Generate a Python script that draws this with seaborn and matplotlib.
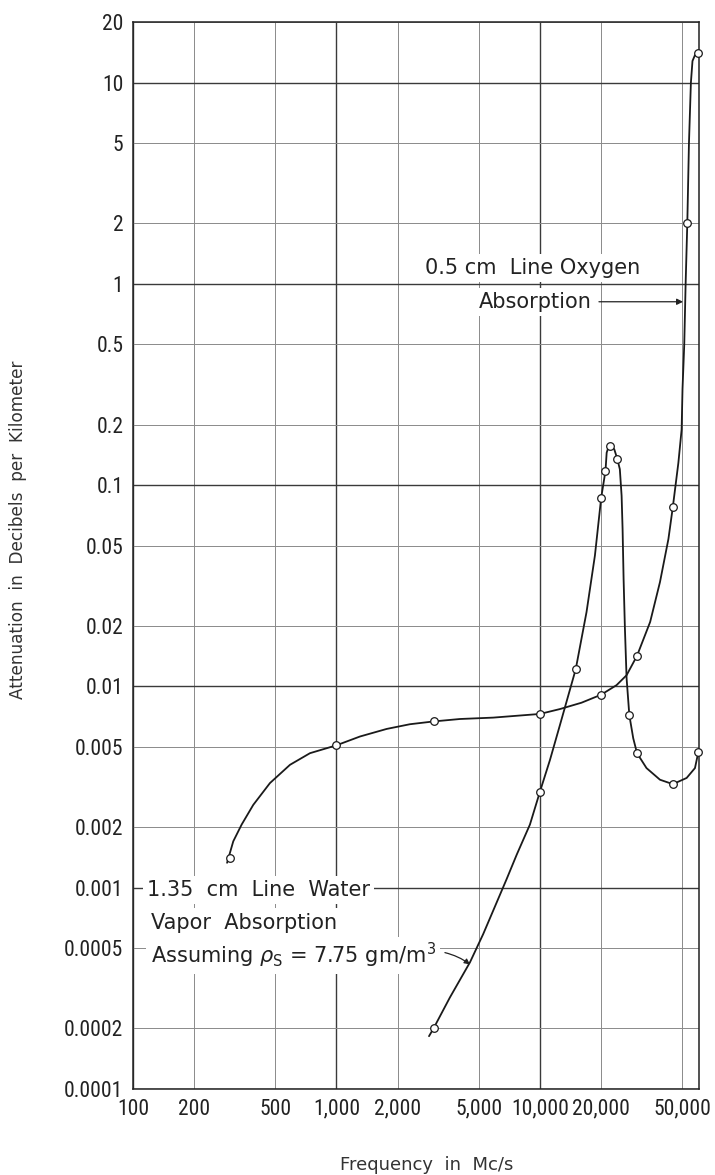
import matplotlib
matplotlib.use("Agg")
import matplotlib.pyplot as plt
import seaborn as sns
import pandas as pd
from matplotlib import font_manager
from matplotlib.ticker import FixedLocator, FixedFormatter, NullLocator

# ---------------- data ----------------
# Oxygen (0.5 cm line) – plotted points
oxy_freq = [300, 1000, 3000, 10000, 20000, 30000, 45000, 53000, 60000]
oxy_att = [0.0014, 0.0051, 0.0067, 0.0073, 0.0091, 0.0142, 0.078, 2.0, 14.0]
# Oxygen – drawn curve
oxy_curve_freq = [290, 311, 342, 390, 471, 591, 741, 1000, 1305, 1765, 2296, 3000,
                  4046, 5890, 10000, 12540, 16000, 20000, 23800, 26660, 30000, 34800,
                  38900, 42800, 45000, 47900, 49700, 50200, 51200, 52000, 53000,
                  54000, 55200, 56200, 57800, 60000]
oxy_curve_att = [0.00133, 0.0017, 0.00206, 0.00258, 0.00331, 0.00408, 0.00466,
                 0.0051, 0.00564, 0.00615, 0.00649, 0.0067, 0.00689, 0.0070, 0.0073,
                 0.00772, 0.0083, 0.0091, 0.01015, 0.01137, 0.0142, 0.0209, 0.033,
                 0.054, 0.078, 0.129, 0.189, 0.3, 0.5, 1.0, 2.0, 5.0, 10.0, 12.8,
                 13.7, 14.0]

# Water vapour (1.35 cm line) – plotted points
h2o_freq = [3000, 10000, 15000, 20000, 21000, 22000, 24000, 27500, 30000, 45000, 60000]
h2o_att = [0.0002, 0.003, 0.0122, 0.0866, 0.118, 0.156, 0.135, 0.0072, 0.00466, 0.00327, 0.0047]
# Water vapour – drawn curve
h2o_curve_freq = [2850, 3000, 3610, 4530, 5260, 6850, 7690, 8930, 10000, 11200, 12540,
                  15000, 16940, 18630, 20000, 21000, 21280, 21650, 22000, 23180, 24000,
                  24700, 25200, 25480, 25770, 26160, 26660, 27500, 28740, 30000, 33400,
                  38900, 45000, 52600, 57800, 60000]
h2o_curve_att = [0.000183, 0.0002, 0.000285, 0.000426, 0.000588, 0.0011, 0.00146,
                 0.00206, 0.003, 0.00431, 0.00643, 0.0122, 0.0234, 0.0447, 0.0866,
                 0.118, 0.145, 0.153, 0.156, 0.151, 0.135, 0.12, 0.0885, 0.0605,
                 0.0343, 0.0194, 0.011, 0.0072, 0.00553, 0.00466, 0.00393, 0.00344,
                 0.00327, 0.00351, 0.00393, 0.0047]

x_ticks = [100, 200, 500, 1000, 2000, 5000, 10000, 20000, 50000]
x_tick_labels = ["100", "200", "500", "1,000", "2,000", "5,000", "10,000", "20,000", "50,000"]
y_ticks = [20, 10, 5, 2, 1, 0.5, 0.2, 0.1, 0.05, 0.02, 0.01, 0.005, 0.002, 0.001,
           0.0005, 0.0002, 0.0001]
y_tick_labels = ["20", "10", "5", "2", "1", "0.5", "0.2", "0.1", "0.05", "0.02", "0.01",
                 "0.005", "0.002", "0.001", "0.0005", "0.0002", "0.0001"]
x_major = [100, 1000, 10000]
y_major = [10, 1, 0.1, 0.01, 0.001, 0.0001]

# ---------------- style ----------------
sns.set_style("white")
plt.rcParams["font.family"] = ["DejaVu Sans"]
plt.rcParams["mathtext.fontset"] = "dejavusans"

# find a narrow face for tick labels if one is installed
names = {f.name: f for f in font_manager.fontManager.ttflist}
tick_font = dict(family="DejaVu Sans", size=13.5, stretch="normal")
for cand in ["Liberation Sans Narrow", "Roboto Condensed", "Open Sans Condensed",
             "Noto Sans Condensed"]:
    if cand in names:
        tick_font = dict(family=cand, size=15.5, stretch="normal")
        break
else:
    cond = [f for f in font_manager.fontManager.ttflist
            if f.name == "DejaVu Sans" and "ondensed" in f.fname and f.weight in (400, "normal")]
    if cond:
        tick_font = dict(family="DejaVu Sans", size=14.5, stretch="condensed")

fig = plt.figure(figsize=(7.15, 11.75), dpi=100)
ax = fig.add_axes([133 / 715, 86 / 1175, (699 - 133) / 715, (1153 - 86) / 1175])
ax.set_xscale("log")
ax.set_yscale("log")
ax.set_xlim(100, 60500)
ax.set_ylim(0.0001, 20)

# grid
for xv in x_ticks:
    major = xv in x_major
    ax.axvline(xv, color="#3a3a3a" if major else "#8a8a8a",
               lw=1.0 if major else 0.7, zorder=1)
for yv in y_ticks:
    major = any(abs(yv - m) / m < 1e-9 for m in y_major)
    ax.axhline(yv, color="#3a3a3a" if major else "#8a8a8a",
               lw=1.0 if major else 0.7, zorder=1)

# curves
oxy_curve = pd.DataFrame({"f": oxy_curve_freq, "a": oxy_curve_att})
h2o_curve = pd.DataFrame({"f": h2o_curve_freq, "a": h2o_curve_att})
for cur in (oxy_curve, h2o_curve):
    sns.lineplot(data=cur, x="f", y="a", ax=ax, color="#1a1a1a", lw=1.3,
                 sort=False, estimator=None, zorder=3)
oxy_pts = pd.DataFrame({"f": oxy_freq, "a": oxy_att})
h2o_pts = pd.DataFrame({"f": h2o_freq, "a": h2o_att})
for pts in (oxy_pts, h2o_pts):
    sns.scatterplot(data=pts, x="f", y="a", ax=ax, s=30, facecolor="white",
                    edgecolor="#1a1a1a", linewidth=0.9, zorder=4, clip_on=False)

# ticks
ax.xaxis.set_major_locator(FixedLocator(x_ticks))
ax.xaxis.set_major_formatter(FixedFormatter(x_tick_labels))
ax.xaxis.set_minor_locator(NullLocator())
ax.yaxis.set_major_locator(FixedLocator(y_ticks))
ax.yaxis.set_major_formatter(FixedFormatter(y_tick_labels))
ax.yaxis.set_minor_locator(NullLocator())
ax.tick_params(axis="both", length=0, pad=7, colors="#222222")
for lab in ax.get_xticklabels() + ax.get_yticklabels():
    lab.set_family(tick_font["family"])
    lab.set_size(tick_font["size"])
    lab.set_stretch(tick_font["stretch"])

for s in ax.spines.values():
    s.set_color("#222222")
    s.set_linewidth(1.1)
    s.set_visible(True)

ax.set_xlabel("Frequency  in  Mc/s", fontsize=13, color="#333333")
ax.set_ylabel("Attenuation  in  Decibels  per  Kilometer", fontsize=12.2,
              color="#333333")
ax.xaxis.set_label_coords(0.518, -0.0712)
ax.yaxis.set_label_coords(-0.203, 0.524)
ax.xaxis.label.set_va("center")
ax.yaxis.label.set_va("center")

# annotations
box = dict(facecolor="white", edgecolor="none", pad=3)
ax.text(9180, 1.2, "0.5 cm  Line Oxygen", ha="center", va="center", fontsize=15,
        color="#222222", bbox=box, zorder=5)
ax.text(9440, 0.815, "Absorption", ha="center", va="center", fontsize=15,
        color="#222222", bbox=box, zorder=5)
ax.annotate("", xy=(50500, 0.815), xytext=(19500, 0.815),
            arrowprops=dict(arrowstyle="-|>", lw=0.9, color="#222222",
                            mutation_scale=9, shrinkA=0, shrinkB=0), zorder=5)

ax.text(117, 0.000977, "1.35  cm  Line  Water", ha="left", va="center", fontsize=15,
        color="#222222", bbox=box, zorder=5)
ax.text(122, 0.000671, "Vapor  Absorption", ha="left", va="center", fontsize=15,
        color="#222222", bbox=box, zorder=5)
ax.text(122, 0.00046, r"Assuming $\rho_{\mathrm{S}}$ = 7.75 gm/m$^{3}$", ha="left",
        va="center", fontsize=15, color="#222222", bbox=box, zorder=5)
ax.annotate("", xy=(4530, 0.000416), xytext=(3412, 0.000476),
            arrowprops=dict(arrowstyle="-|>", lw=0.9, color="#222222",
                            mutation_scale=8, shrinkA=0, shrinkB=0,
                            connectionstyle="arc3,rad=-0.1"), zorder=5)

fig.savefig("out.png", dpi=100, facecolor="white")
